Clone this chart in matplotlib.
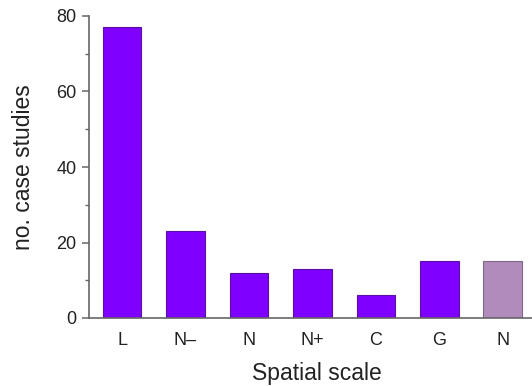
import matplotlib
matplotlib.use("Agg")
import matplotlib.pyplot as plt
from matplotlib.ticker import MultipleLocator

categories = ["L", "N\u2013", "N", "N+", "C", "G", "N"]
values = [77, 23, 12, 13, 6, 15, 15]
face_colors = ["#7F00FF"] * 6 + ["#B28BBD"]
edge_colors = ["#5A10A0"] * 6 + ["#7A6A80"]

plt.rcParams['font.family'] = ['Liberation Sans', 'DejaVu Sans']

fig = plt.figure(figsize=(5.32, 3.86), dpi=100)
ax = fig.add_axes([89/532, 68/386, 1 - 89/532, (318-16)/386])

x = list(range(len(categories)))
ax.bar(x, values, width=0.61, color=face_colors, edgecolor=edge_colors, linewidth=0.8)

ax.set_xlim(-0.52, 6.46)
ax.set_ylim(0, 80)
ax.yaxis.set_major_locator(MultipleLocator(20))
ax.yaxis.set_minor_locator(MultipleLocator(10))
ax.set_xticks(x)
ax.set_xticklabels(categories)

for s in ["top", "right"]:
    ax.spines[s].set_visible(False)
for s in ["left", "bottom"]:
    ax.spines[s].set_color("#666666")
    ax.spines[s].set_linewidth(1.2)

ax.tick_params(axis="y", which="major", length=5, width=1.1, color="#666666", labelsize=13, pad=4, labelcolor="#222222")
ax.tick_params(axis="y", which="minor", length=3, width=1.0, color="#666666")
ax.tick_params(axis="x", length=0, pad=10, labelsize=13, labelcolor="#222222")

ax.set_ylabel("no. case studies", fontsize=16.5, color="#222222", labelpad=15)
ax.set_xlabel("Spatial scale", fontsize=16.5, color="#222222", labelpad=10)
ax.xaxis.set_label_coords(0.515, -0.145)

fig.savefig("out.png", dpi=100)
